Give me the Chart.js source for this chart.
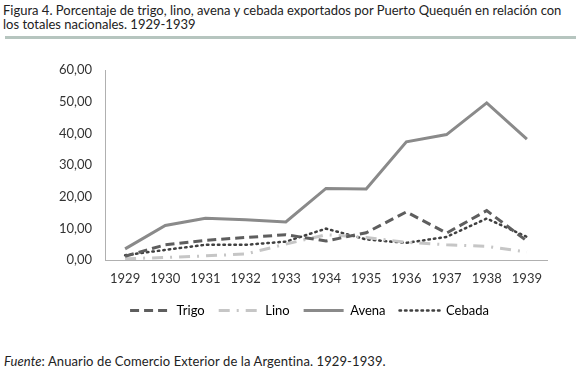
<!DOCTYPE html>
<html>
<head>
<meta charset="utf-8">
<script src="https://cdn.jsdelivr.net/npm/chart.js@4"></script>
<style>
  html, body { margin: 0; padding: 0; background: #fff; }
  body { width: 576px; height: 378px; position: relative; overflow: hidden; font-family: Lato, "Open Sans", sans-serif; color: #222; }
  #title { position: absolute; left: 3px; top: 3px; font-size: 13px; line-height: 14px; letter-spacing: 0px; white-space: nowrap; }
  #sep { position: absolute; left: 5px; right: 0; top: 36px; height: 3px; background: #b6c5bf; }
  #wrap { position: absolute; left: 0; top: 40px; width: 576px; height: 300px; }
  #foot { position: absolute; left: 4px; top: 353px; font-size: 13px; white-space: nowrap; letter-spacing: 0.1px; }
</style>
</head>
<body>
<div id="title">Figura 4. Porcentaje de trigo, lino, avena y cebada exportados por Puerto Quequén en relación con<br>los totales nacionales. 1929-1939</div>
<div id="sep"></div>
<div id="wrap"><canvas id="c" width="576" height="300"></canvas></div>
<div id="foot"><i>Fuente</i>: Anuario de Comercio Exterior de la Argentina. 1929-1939.</div>
<script>
const years = ["1929","1930","1931","1932","1933","1934","1935","1936","1937","1938","1939"];
const trigo  = [1.2, 4.8, 6.2, 7.1, 8.0, 6.0, 8.6, 15.2, 8.5, 15.6, 6.0];
const lino   = [0.4, 0.8, 1.3, 1.9, 5.0, 8.0, 7.1, 5.6, 4.8, 4.3, 2.5];
const avena  = [3.5, 10.9, 13.2, 12.7, 12.0, 22.6, 22.4, 37.3, 39.6, 49.6, 38.2];
const cebada = [1.5, 3.2, 4.8, 4.8, 5.8, 9.9, 6.5, 5.4, 7.3, 13.1, 7.3];
const yTicks = [0, 10, 20, 30, 40, 50, 60];

const fmt = v => v.toFixed(2).replace('.', ',');
const FONT = 'Lato, "Open Sans", sans-serif';

const shiftLegend = {
  id: 'shiftLegend',
  afterLayout(chart) {
    const lg = chart.legend;
    if (lg) { lg.left += 36; lg.right += 36; }
  }
};

new Chart(document.getElementById('c'), {
  type: 'line',
  plugins: [shiftLegend],
  data: {
    labels: years,
    datasets: [
      { label: 'Trigo', data: trigo, borderColor: '#5e5e5e', backgroundColor: '#5e5e5e', borderWidth: 3, borderDash: [9, 5], pointRadius: 0, tension: 0, fill: false },
      { label: 'Lino', data: lino, borderColor: '#c6c6c6', backgroundColor: '#c6c6c6', borderWidth: 3, borderDash: [11, 7, 2, 7], pointRadius: 0, tension: 0, fill: false },
      { label: 'Avena', data: avena, borderColor: '#8a8a8a', backgroundColor: '#8a8a8a', borderWidth: 3, pointRadius: 0, tension: 0, fill: false },
      { label: 'Cebada', data: cebada, borderColor: '#404040', backgroundColor: '#404040', borderWidth: 2.5, borderDash: [1.5, 4], borderCapStyle: 'round', pointRadius: 0, tension: 0, fill: false }
    ]
  },
  options: {
    responsive: false,
    animation: false,
    layout: { padding: { top: 30, left: 0, right: 29, bottom: 13 } },
    plugins: {
      legend: {
        position: 'bottom',
        labels: {
          usePointStyle: true,
          pointStyle: 'line',
          pointStyleWidth: 40,
          boxHeight: 3,
          padding: 14,
          color: '#222',
          font: { family: FONT, size: 13 },
          generateLabels(chart) {
            return chart.data.datasets.map((ds, i) => ({
              text: ds.label,
              fillStyle: ds.borderColor,
              strokeStyle: ds.borderColor,
              lineWidth: ds.borderWidth,
              lineDash: ds.borderDash || [],
              lineCap: ds.borderCapStyle || 'butt',
              pointStyle: 'line',
              hidden: false,
              datasetIndex: i
            }));
          }
        }
      },
      tooltip: { enabled: false }
    },
    scales: {
      x: {
        offset: true,
        grid: { display: false, drawTicks: false },
        border: { display: true, color: '#b0b0b0', width: 1 },
        ticks: { color: '#333', padding: 11, maxRotation: 0, font: { family: FONT, size: 13 } },
        afterFit(s) { s.height = 30; }
      },
      y: {
        min: 0, max: 60,
        grid: { display: false, drawTicks: false },
        border: { display: true, color: '#b0b0b0', width: 1 },
        afterBuildTicks(s) { s.ticks = yTicks.map(v => ({ value: v })); },
        ticks: { color: '#333', padding: 13, callback: v => fmt(v), font: { family: FONT, size: 13 } },
        afterFit(s) { s.width = 105; }
      }
    }
  }
});
</script>
</body>
</html>
